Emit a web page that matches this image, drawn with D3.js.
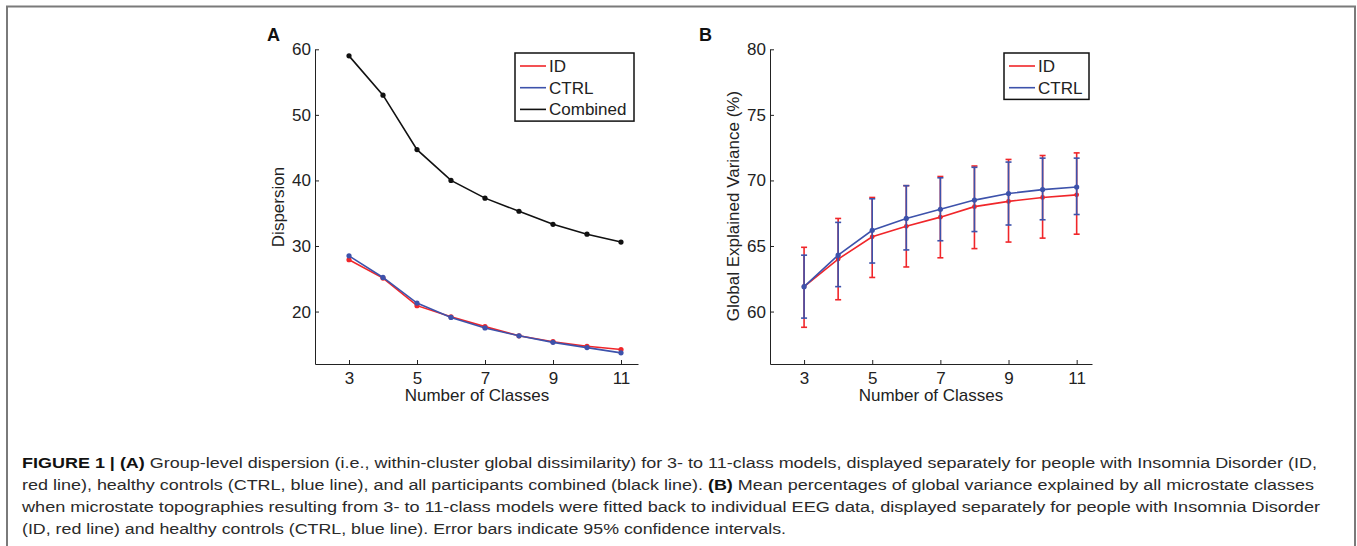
<!DOCTYPE html>
<html>
<head>
<meta charset="utf-8">
<script src="https://cdn.jsdelivr.net/npm/d3@7"></script>
<style>
  body { margin: 0; background: #fff; }
  svg text { font-family: "Liberation Sans", Arial, sans-serif; }
</style>
</head>
<body>
<script>
// values
var classes = [3, 4, 5, 6, 7, 8, 9, 10, 11]

var dispID = [27.9, 25.1, 20.9, 19.2, 17.7, 16.3, 15.4, 14.7, 14.2]
var dispCTRL = [28.5, 25.2, 21.3, 19.1, 17.5, 16.3, 15.3, 14.5, 13.7]
var dispCombined = [59.0, 53.0, 44.7, 40.0, 37.3, 35.3, 33.3, 31.8, 30.6]

var gevID = [61.9, 64.0, 65.7, 66.5, 67.2, 68.0, 68.4, 68.7, 68.9]
var gevIDLow = [58.8, 60.9, 62.6, 63.4, 64.1, 64.8, 65.3, 65.6, 65.9]
var gevIDHigh = [64.9, 67.1, 68.7, 69.6, 70.3, 71.1, 71.6, 71.9, 72.1]
var gevCTRL = [61.9, 64.3, 66.2, 67.1, 67.8, 68.5, 69.0, 69.3, 69.5]
var gevCTRLLow = [59.5, 61.9, 63.7, 64.7, 65.4, 66.1, 66.6, 67.0, 67.4]
var gevCTRLHigh = [64.3, 66.8, 68.6, 69.6, 70.2, 71.0, 71.4, 71.7, 71.7]

var xTicks = [3, 5, 7, 9, 11]
var dispTicks = [20, 30, 40, 50, 60]
var gevTicks = [60, 65, 70, 75, 80]

var red = "#f0262a"
var blue = "#3d52ab"

var captionLines = [
  [["FIGURE 1 | (A)", true], [" Group-level dispersion (i.e., within-cluster global dissimilarity) for 3- to 11-class models, displayed separately for people with Insomnia Disorder (ID,", false]],
  [["red line), healthy controls (CTRL, blue line), and all participants combined (black line). ", false], ["(B)", true], [" Mean percentages of global variance explained by all microstate classes", false]],
  [["when microstate topographies resulting from 3- to 11-class models were fitted back to individual EEG data, displayed separately for people with Insomnia Disorder", false]],
  [["(ID, red line) and healthy controls (CTRL, blue line). Error bars indicate 95% confidence intervals.", false]]
]
var captionWidths = [1295, 1292, 1298, 764]

var svg = d3.select("body").append("svg")
    .attr("width", 1357)
    .attr("height", 546)

// frame around the figure
svg.append("path")
    .attr("d", "M7,560 L7,6.5 L1355,6.5 L1355,560")
    .attr("fill", "none")
    .attr("stroke", "#7a7a7a")
    .attr("stroke-width", 2)

function drawAxes(g, x, y, yTicks) {
  var xAxis = g.append("g")
      .attr("transform", "translate(0," + y.range()[0] + ")")
      .call(d3.axisBottom(x).tickValues(xTicks).tickSizeInner(-4).tickSizeOuter(0).tickPadding(8))
  var yAxis = g.append("g")
      .attr("transform", "translate(" + x.range()[0] + ",0)")
      .call(d3.axisLeft(y).tickValues(yTicks).tickSizeInner(-4).tickSizeOuter(0).tickPadding(4))
  ;[xAxis, yAxis].forEach(function(a){
    a.select(".domain").attr("stroke", "#222")
    a.selectAll(".tick line").attr("stroke", "#222")
    a.selectAll(".tick text").attr("font-size", 17).attr("fill", "#222")
  })
}

function drawSeries(g, x, y, vals, color, r) {
  var line = d3.line()
      .x(function(d, i){ return x(classes[i]) })
      .y(function(d){ return y(d) })
  g.append("path")
      .attr("d", line(vals))
      .attr("fill", "none")
      .attr("stroke", color)
      .attr("stroke-width", 1.6)
  g.selectAll(null)
      .data(vals)
      .enter()
      .append("circle")
      .attr("cx", function(d, i){ return x(classes[i]) })
      .attr("cy", function(d){ return y(d) })
      .attr("r", r)
      .attr("fill", color)
}

function drawErrors(g, x, y, lo, hi, color) {
  var e = g.selectAll(null)
      .data(classes)
      .enter()
      .append("g")
      .attr("stroke", color)
      .attr("stroke-width", 1.6)
  e.append("line")
      .attr("x1", function(d){ return x(d) })
      .attr("x2", function(d){ return x(d) })
      .attr("y1", function(d, i){ return y(lo[i]) })
      .attr("y2", function(d, i){ return y(hi[i]) })
  e.append("line")
      .attr("x1", function(d){ return x(d) - 3 })
      .attr("x2", function(d){ return x(d) + 3 })
      .attr("y1", function(d, i){ return y(lo[i]) })
      .attr("y2", function(d, i){ return y(lo[i]) })
  e.append("line")
      .attr("x1", function(d){ return x(d) - 3 })
      .attr("x2", function(d){ return x(d) + 3 })
      .attr("y1", function(d, i){ return y(hi[i]) })
      .attr("y2", function(d, i){ return y(hi[i]) })
}

function drawLegend(g, x0, y0, w, entries) {
  g.append("rect")
      .attr("x", x0).attr("y", y0)
      .attr("width", w).attr("height", entries.length * 21.7 + 3)
      .attr("fill", "#fff")
      .attr("stroke", "#111")
      .attr("stroke-width", 1.5)
  entries.forEach(function(en, i){
    var cy = y0 + 13 + i * 21.7
    g.append("line")
        .attr("x1", x0 + 5).attr("x2", x0 + 31)
        .attr("y1", cy).attr("y2", cy)
        .attr("stroke", en[1]).attr("stroke-width", 1.6)
    g.append("text")
        .attr("x", x0 + 34).attr("y", cy + 6)
        .attr("font-size", 17).attr("fill", "#222")
        .text(en[0])
  })
}

// panel A
var xA = d3.scaleLinear().domain([2, 11.5]).range([315, 638])
var yA = d3.scaleLinear().domain([12, 60]).range([364, 49.3])
var gA = svg.append("g")
drawAxes(gA, xA, yA, dispTicks)
drawSeries(gA, xA, yA, dispCombined, "#111", 2.6)
drawSeries(gA, xA, yA, dispID, red, 2.6)
drawSeries(gA, xA, yA, dispCTRL, blue, 2.6)
drawLegend(gA, 515, 53, 119, [["ID", red], ["CTRL", blue], ["Combined", "#111"]])
gA.append("text")
    .attr("transform", "translate(284,207) rotate(-90)")
    .attr("text-anchor", "middle").attr("font-size", 17).attr("fill", "#222")
    .text("Dispersion")
gA.append("text")
    .attr("x", 477).attr("y", 401)
    .attr("text-anchor", "middle").attr("font-size", 17).attr("fill", "#222")
    .text("Number of Classes")
gA.append("text")
    .attr("x", 267).attr("y", 41)
    .attr("font-size", 18).attr("font-weight", "bold").attr("fill", "#111")
    .text("A")

// panel B
var xB = d3.scaleLinear().domain([2, 11.45]).range([770, 1092])
var yB = d3.scaleLinear().domain([56, 80]).range([364, 49.3])
var gB = svg.append("g")
drawAxes(gB, xB, yB, gevTicks)
drawErrors(gB, xB, yB, gevIDLow, gevIDHigh, red)
drawSeries(gB, xB, yB, gevID, red, 2.4)
drawErrors(gB, xB, yB, gevCTRLLow, gevCTRLHigh, blue)
drawSeries(gB, xB, yB, gevCTRL, blue, 2.6)
drawLegend(gB, 1004, 53, 85, [["ID", red], ["CTRL", blue]])
gB.append("text")
    .attr("transform", "translate(739,206) rotate(-90)")
    .attr("text-anchor", "middle").attr("font-size", 17).attr("fill", "#222")
    .text("Global Explained Variance (%)")
gB.append("text")
    .attr("x", 931).attr("y", 401)
    .attr("text-anchor", "middle").attr("font-size", 17).attr("fill", "#222")
    .text("Number of Classes")
gB.append("text")
    .attr("x", 699).attr("y", 41)
    .attr("font-size", 18).attr("font-weight", "bold").attr("fill", "#111")
    .text("B")

// caption
var cap = svg.append("g")
captionLines.forEach(function(parts, i){
  var t = cap.append("text")
      .attr("x", 22)
      .attr("y", 468 + i * 22)
      .attr("font-size", 15.5)
      .attr("fill", "#2a2a2a")
      .attr("textLength", captionWidths[i])
      .attr("lengthAdjust", "spacingAndGlyphs")
  parts.forEach(function(p){
    t.append("tspan")
        .attr("font-weight", p[1] ? "bold" : "normal")
        .attr("fill", p[1] ? "#111" : "#2a2a2a")
        .text(p[0])
  })
})
</script>
</body>
</html>
